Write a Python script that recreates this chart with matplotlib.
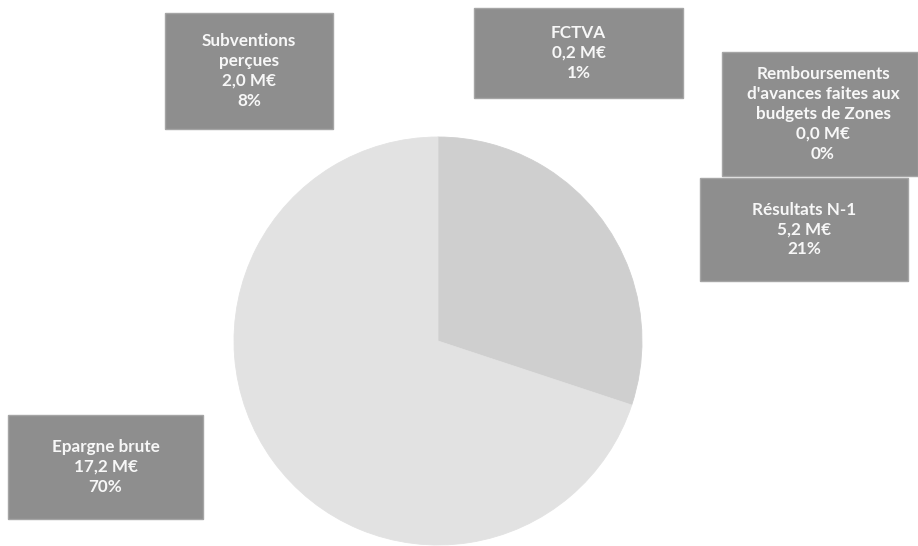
import matplotlib
matplotlib.use("Agg")
import matplotlib.pyplot as plt
from matplotlib.patches import Rectangle

# Répartition des ressources d'investissement
labels = ["Subventions\nperçues", "FCTVA",
          "Remboursements\nd'avances faites aux\nbudgets de Zones",
          "Résultats N-1", "Epargne brute"]
values_meur = [2.0, 0.2, 0.0, 5.2, 17.2]
percents = [8, 1, 0, 21, 70]
slice_colors = ["#cfcfcf", "#cfcfcf", "#cfcfcf", "#cfcfcf", "#e2e2e2"]

W, H = 918, 546
fig = plt.figure(figsize=(W / 100, H / 100), dpi=100)
ax = fig.add_axes([0, 0, 1, 1])

wedges, _ = ax.pie(values_meur, colors=slice_colors, startangle=90,
                   counterclock=False, center=(438, H - 341), radius=204,
                   wedgeprops=dict(linewidth=0.6), frame=True)
for w, c in zip(wedges, slice_colors):
    w.set_edgecolor(c)
ax.set_xlim(0, W)
ax.set_ylim(0, H)
ax.set_aspect("equal")
ax.axis("off")

# label boxes: (left, top, right, bottom) in pixels from the top-left corner
boxes = [(165, 13, 333, 129), (474, 8, 683, 98), (722, 52, 918, 176),
         (700, 178, 908, 281), (8, 415, 203, 519)]
text_dx = [0, 0, 3, 0, 0]

for lab, v, p, (l, t, r, b), dx in zip(labels, values_meur, percents, boxes, text_dx):
    ax.add_patch(Rectangle((l, H - b), r - l, b - t, facecolor="#8e8e8e",
                           edgecolor="#a5a5a5", linewidth=1.0, zorder=3))
    txt = f"{lab}\n{v:.1f}".replace(".", ",") + f" M€\n{p}%"
    ax.text((l + r) / 2 + dx, H - (t + b) / 2, txt, ha="center", va="center",
            color="#f7f7f7", fontsize=12.3, fontweight="bold",
            family=["Lato", "DejaVu Sans"], linespacing=1.3, zorder=4)

fig.savefig("out.png", dpi=100, facecolor="white")
